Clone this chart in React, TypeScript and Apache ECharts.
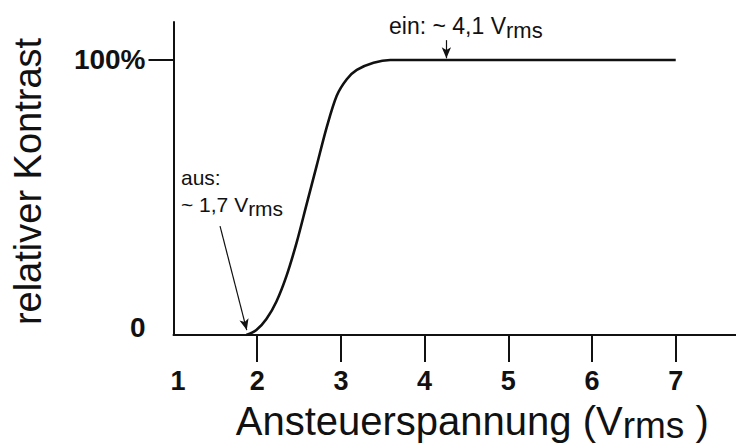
import React, { useEffect, useRef } from "react";
import * as echarts from "echarts";

// Curve: relative contrast (%) vs. drive voltage (Vrms)
const voltage = [1.87, 1.99, 2.11, 2.23, 2.35, 2.47, 2.59, 2.71, 2.83, 2.95, 3.07, 3.19, 3.39, 3.59, 3.95, 7.0];
const contrast = [0, 1.8, 5.8, 12.2, 21.5, 33.5, 47.5, 61.5, 75.5, 87.0, 93.0, 96.4, 99.0, 100, 100, 100];

const xTickValues = [2, 3, 4, 5, 6, 7];
const xLabelValues = [1, 2, 3, 4, 5, 6, 7];
const yTickValues = [100];
const yLabelValues = [0, 100];

// annotation arrows (data coordinates: start -> tip)
const offArrow = [[1.556, 39.6], [1.875, 1.8]];
const onArrow = [[4.26, 107.2], [4.26, 100.6]];

const FONT = "'Liberation Sans', Arial, Helvetica, sans-serif";
const INK = "#111";

export default function App() {
  const ref = useRef<HTMLDivElement>(null);

  useEffect(() => {
    if (!ref.current) return;
    const chart = echarts.init(ref.current, undefined, { renderer: "svg" });
    const sub = (size: number, lh: number, drop: number) => ({
      fontSize: size,
      fontFamily: FONT,
      color: INK,
      lineHeight: lh,
      padding: [drop, 0, 0, 0],
    });
    chart.setOption({
      animation: false,
      backgroundColor: "#fff",
      grid: {
        left: 173.5,
        right: 0,
        top: 22,
        bottom: 110,
        containLabel: false,
        outerBoundsMode: "none",
      },
      xAxis: {
        type: "value",
        min: 1,
        max: 7.72,
        interval: 1,
        splitLine: { show: false },
        axisLine: { show: true, lineStyle: { color: INK, width: 2 } },
        axisTick: {
          show: true,
          customValues: xTickValues,
          length: 27,
          lineStyle: { color: INK, width: 2 },
        },
        axisLabel: {
          customValues: xLabelValues,
          margin: 32,
          fontSize: 27,
          fontWeight: "bold",
          fontFamily: FONT,
          color: INK,
          formatter: (v: number) => (v === 1 ? "{o|1}" : String(v)),
          rich: {
            o: {
              fontSize: 27,
              fontWeight: "bold",
              fontFamily: FONT,
              color: INK,
              padding: [0, 0, 0, 9],
            },
          },
        },
        name: "Ansteuerspannung (V{s|rms} )",
        nameLocation: "middle",
        nameGap: 60,
        nameTextStyle: {
          fontSize: 40,
          fontFamily: FONT,
          color: INK,
          lineHeight: 42,
          padding: [0, 0, 0, 35],
          rich: { s: sub(37, 32, 8) },
        },
      },
      yAxis: {
        type: "value",
        min: 0,
        max: 113.8,
        interval: 100,
        splitLine: { show: false },
        axisLine: { show: true, lineStyle: { color: INK, width: 2 } },
        axisTick: {
          show: true,
          customValues: yTickValues,
          length: 25,
          lineStyle: { color: INK, width: 2 },
        },
        axisLabel: {
          customValues: yLabelValues,
          margin: 28,
          fontSize: 28,
          fontWeight: "bold",
          fontFamily: FONT,
          color: INK,
          formatter: (v: number) => (v === 100 ? "100%" : "{z|0}"),
          rich: {
            z: {
              fontSize: 28,
              fontWeight: "bold",
              fontFamily: FONT,
              color: INK,
              padding: [0, 0, 16, 0],
            },
          },
        },
        name: "relativer Kontrast",
        nameLocation: "middle",
        nameRotate: 90,
        nameGap: 127,
        nameTextStyle: { fontSize: 38, fontFamily: FONT, color: INK, padding: [0, 6, 0, 0] },
      },
      series: [
        {
          type: "line",
          data: voltage.map((v, i) => [v, contrast[i]]),
          showSymbol: false,
          smooth: 0.3,
          lineStyle: { color: INK, width: 2.6 },
          markLine: {
            silent: true,
            animation: false,
            label: { show: false },
            lineStyle: { color: INK, width: 1.2, type: "solid" },
            symbolSize: [7, 11],
            data: [
              [
                { coord: offArrow[0], symbol: "none" },
                { coord: offArrow[1], symbol: "arrow" },
              ],
              [
                { coord: onArrow[0], symbol: "none" },
                { coord: onArrow[1], symbol: "arrow" },
              ],
            ],
          },
        },
      ],
      graphic: [
        {
          type: "text",
          left: 181,
          top: 167,
          style: {
            text: "aus:",
            fontSize: 21,
            fontFamily: FONT,
            fill: INK,
            lineHeight: 21,
          },
        },
        {
          type: "text",
          left: 181,
          top: 190,
          style: {
            text: "~ 1,7 V{s|rms}",
            fontSize: 21,
            fontFamily: FONT,
            fill: INK,
            lineHeight: 21,
            rich: { s: sub(21, 13, 8) },
          },
        },
        {
          type: "text",
          left: 389,
          top: 11,
          style: {
            text: "ein: ~ 4,1 V{s|rms}",
            fontSize: 23,
            fontFamily: FONT,
            fill: INK,
            lineHeight: 23,
            rich: { s: sub(22, 15, 8) },
          },
        },
      ],
    });
    return () => chart.dispose();
  }, []);

  return (
    <div
      ref={ref}
      style={{ position: "fixed", left: 0, top: 0, width: 736, height: 445, background: "#fff" }}
    />
  );
}
